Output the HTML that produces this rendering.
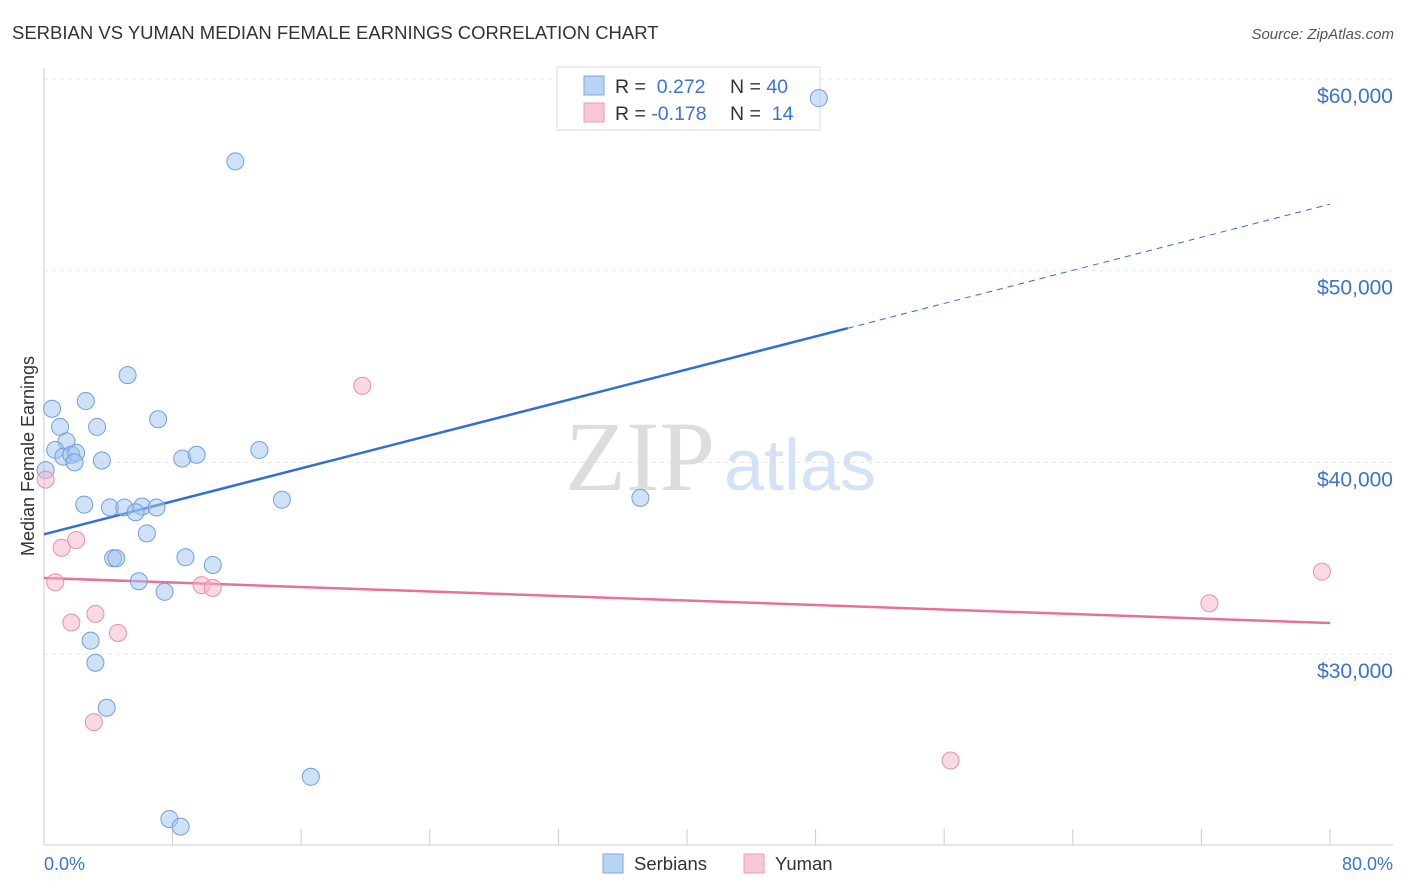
<!DOCTYPE html>
<html><head><meta charset="utf-8"><style>
body{margin:0;background:#fff;font-family:"Liberation Sans",sans-serif;}
svg{display:block}
</style></head><body>
<svg id="chart" width="1406" height="892" viewBox="0 0 1406 892">
<text x="12" y="39" font-size="18.5" fill="#333">SERBIAN VS YUMAN MEDIAN FEMALE EARNINGS CORRELATION CHART</text>
<text x="1394" y="39" font-size="15" fill="#555" font-style="italic" text-anchor="end">Source: ZipAtlas.com</text>
<g id="grid"></g>
<g id="yticks"></g>
<g id="xticks"></g>
<line x1="44" y1="68" x2="44" y2="845" stroke="#ccc"/>
<line x1="44" y1="845" x2="1393" y2="845" stroke="#ccc"/>
<text x="640" y="490" font-size="100" fill="#ddd" text-anchor="middle" font-family="Liberation Serif,serif">ZIP</text>
<text x="800" y="490" font-size="72" fill="#d3e2f5" text-anchor="middle">atlas</text>
<text transform="translate(34,456) rotate(-90)" font-size="18" fill="#333" text-anchor="middle">Median Female Earnings</text>
<text x="44" y="870" font-size="18" fill="#3b73d1">0.0%</text>
<text x="1393" y="870" font-size="18" fill="#3b73d1" text-anchor="end">80.0%</text>
<g>
<rect x="557" y="67" width="263" height="63" fill="#fff" stroke="#ddd"/>
<rect x="584" y="76" width="20" height="19" fill="#b9d3f3" stroke="#7aa7e6"/>
<rect x="584" y="103" width="20" height="19" fill="#f9c8d6" stroke="#ec9ab3"/>
<text x="615" y="93" font-size="19.5" fill="#333">R = <tspan fill="#3b73d1">&#160;0.272</tspan><tspan x="730">N = </tspan><tspan fill="#3b73d1">40</tspan></text>
<text x="615" y="120" font-size="19.5" fill="#333">R = <tspan fill="#3b73d1">-0.178</tspan><tspan x="730">N = </tspan><tspan fill="#3b73d1">&#160;14</tspan></text>
</g>
<g id="trends"></g>
<g id="points"></g>
<g>
<rect x="603" y="854" width="20" height="19" fill="#b9d3f3" stroke="#7aa7e6"/>
<text x="634" y="870" font-size="18.5" fill="#333">Serbians</text>
<rect x="744" y="854" width="20" height="19" fill="#f9c8d6" stroke="#ec9ab3"/>
<text x="775" y="870" font-size="18.5" fill="#333">Yuman</text>
</g>
</svg>
<script>
const yTickValues=[30000,40000,50000,60000];
const yTickLabels=["$30,000","$40,000","$50,000","$60,000"];
const xTickValues=[0,8,16,24,32,40,48,56,64,72,80];
const serbX=[48.2,11.9,5.2,0.5,2.6,7.1,1.0,3.3,1.4,0.7,1.2,1.7,2.0,1.9,3.6,8.6,9.5,13.4,2.5,4.1,5.0,6.1,7.0,5.7,6.4,14.8,37.1,4.3,4.5,8.8,10.5,5.9,7.5,2.9,3.2,3.9,16.6,7.8,8.5,0.1];
const serbY=[59000,55700,44550,42800,43200,42250,41850,41850,41100,40650,40300,40400,40500,40000,40100,40200,40400,40650,37800,37650,37650,37700,37650,37400,36300,38050,38150,35000,35000,35050,34650,33800,33250,30700,29550,27200,23600,21400,21000,39600];
const yumX=[0.1,1.1,2.0,0.7,1.7,3.2,4.6,3.1,9.8,10.5,19.8,72.5,79.5,56.4];
const yumY=[39100,35550,35950,33750,31650,32100,31100,26450,33600,33450,44000,32650,34300,24450];
const serbTrendX=[0,50,80];
const serbTrendY=[36250,47000,53470];
const yumTrendX=[0,80];
const yumTrendY=[33970,31620];
const NS="http://www.w3.org/2000/svg";
const xs=v=>44+v/80*1286;
const ys=v=>79+(60000-v)/10000*191.7;
function mk(tag,attrs,parent){const e=document.createElementNS(NS,tag);for(const k in attrs)e.setAttribute(k,attrs[k]);document.getElementById(parent).appendChild(e);return e;}
yTickValues.forEach((v,i)=>{
 const l=mk('line',{x1:44,x2:1393,y1:ys(v),y2:ys(v),stroke:'#e6e6e6','stroke-dasharray':'4,4'},'grid');
 
 
 const t=mk('text',{x:1393,y:ys(v)+24,'font-size':21,fill:'#3b73d1','text-anchor':'end'},'yticks');
 t.textContent=yTickLabels[i];
 
 
});
xTickValues.forEach(v=>{
 const l=mk('line',{x1:xs(v),x2:xs(v),y1:829,y2:845,stroke:'#ccc'},'xticks');
 
 
});
function trend(X,Y,color,name,dashFrom){
 for(let i=0;i<X.length-1;i++){
  const dashed=dashFrom!==undefined&&i>=dashFrom;
  const l=mk('line',{x1:xs(X[i]),y1:ys(Y[i]),x2:xs(X[i+1]),y2:ys(Y[i+1]),stroke:color,'stroke-width':dashed?1:2.5},'trends');
  if(dashed)l.setAttribute('stroke-dasharray','6,5');
  
  
 }
}
serbX.forEach((x,i)=>{
 const c=mk('circle',{cx:xs(x),cy:ys(serbY[i]),r:8.5,fill:'rgba(160,196,240,0.5)',stroke:'#6f9fe0','stroke-width':1},'points');
 
 
});
yumX.forEach((x,i)=>{
 const c=mk('circle',{cx:xs(x),cy:ys(yumY[i]),r:8.5,fill:'rgba(246,180,200,0.5)',stroke:'#e890ac','stroke-width':1},'points');
 
 
});
trend(serbTrendX,serbTrendY,'#2f6fd6','serbians-trend-line',1);
trend(yumTrendX,yumTrendY,'#e8709a','yuman-trend-line');
</script>
</body></html>
